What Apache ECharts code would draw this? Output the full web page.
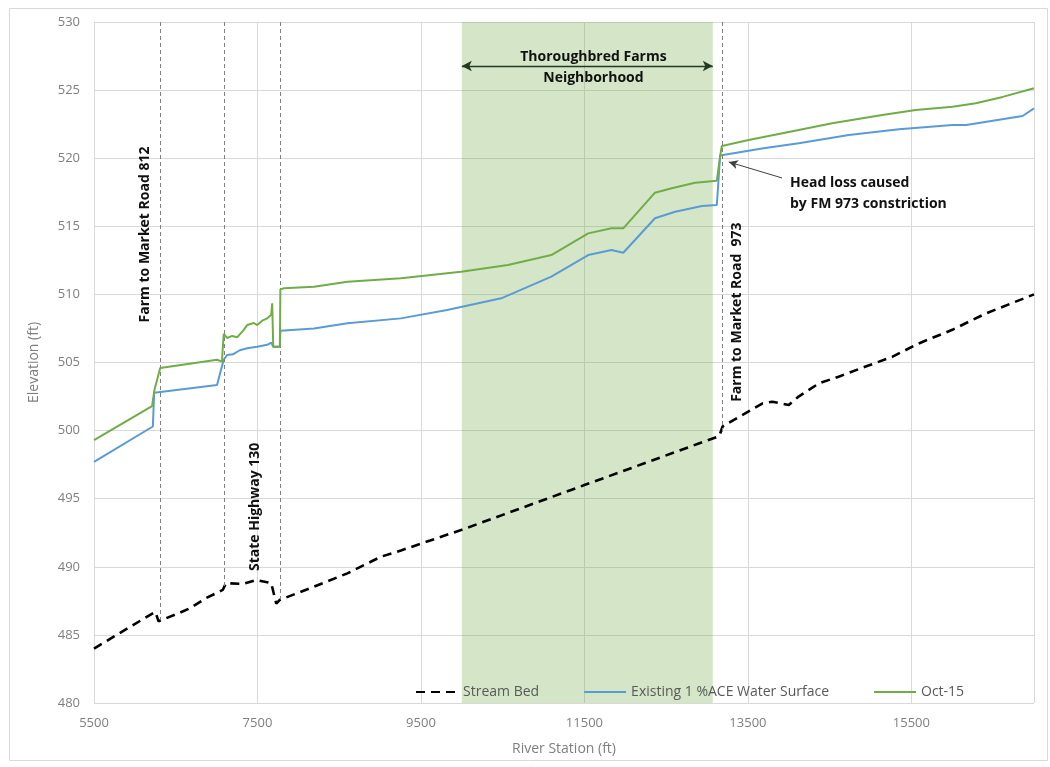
<!DOCTYPE html>
<html><head><meta charset="utf-8">
<script src="https://cdn.jsdelivr.net/npm/echarts@6/dist/echarts.min.js"></script>
<style>html,body{margin:0;padding:0;background:#fff}#c{width:1050px;height:767px}</style>
</head><body><div id="c"></div>
<script>
// ---- Data ----
const bedStation = [5500,6250,6290,6540,6670,6870,7075,7115,7320,7485,7668,7730,7770,8190,8600,9010,9255,10000,11500,13150,13190,13680,13800,14000,14120,14370,14610,14940,15270,15590,16000,16410,17000];
const bedElev    = [484.0,486.7,486.0,486.6,486.95,487.7,488.3,488.8,488.74,489.03,488.8,487.3,487.56,488.54,489.52,490.74,491.2,492.72,496.0,499.6,500.3,502.0,502.12,501.88,502.5,503.47,503.96,504.7,505.43,506.4,507.4,508.6,510.0];

const octStation = [5500,6210,6240,6310,7005,7065,7087,7128,7190,7251,7332,7374,7455,7496,7558,7619,7668,7680,7693,7774,7780,7823,8191,8601,9255,9991,10564,11095,11546,11831,11975,12363,12568,12854,13120,13160,13181,13509,14122,14531,15144,15553,16003,16289,16617,17000];
const octElev    = [499.3,501.8,503.0,504.6,505.2,505.06,507.1,506.8,506.95,506.85,507.4,507.75,507.9,507.75,508.07,508.24,508.5,509.35,506.16,506.16,510.37,510.45,510.57,510.93,511.18,511.67,512.16,512.89,514.48,514.85,514.85,517.47,517.79,518.2,518.35,520.16,520.9,521.34,522.07,522.56,523.17,523.54,523.78,524.03,524.5,525.13];

const exStation  = [5500,6220,6236,7005,7087,7128,7200,7283,7374,7496,7619,7668,7680,7693,7774,7780,8191,8601,9255,9820,10482,11095,11546,11831,11975,12363,12610,12937,13120,13160,13690,14122,14735,15348,16003,16170,16860,17000];
const exElev     = [497.7,500.3,502.78,503.35,505.2,505.55,505.6,505.9,506.04,506.16,506.3,506.46,506.6,506.16,506.16,507.33,507.5,507.88,508.24,508.85,509.71,511.3,512.89,513.26,513.06,515.59,516.07,516.49,516.56,520.2,520.73,521.1,521.7,522.12,522.44,522.44,523.1,523.66];

const seriesNames = ['Stream Bed','Existing 1 %ACE Water Surface','Oct-15'];

const bridgeStation = [6310,7095,7782,13190];
const bridgeBottom  = [486.1,488.5,487.6,499.9];
const bridgeTop     = 530;

const bridgeLabels  = ['Farm to Market Road 812','State Highway 130','Farm to Market Road  973'];
const bridgeLabelStation = [6126,7475,13365];
const bridgeLabelElev    = [514.4,494.4,508.7];

const neighborhoodStart = 10000, neighborhoodEnd = 13070;
const neighborhoodLabel = 'Thoroughbred Farms\nNeighborhood';
const neighborhoodLabelPos = [11610, 526.66];
const neighborhoodArrowElev = 526.77;

const headLossLabel = 'Head loss caused\nby FM 973 constriction';
const headLossLabelPos = [14015, 517.4];
const headLossArrowFrom = [13917, 518.55];
const headLossArrowTo   = [13267, 519.72];

const xMin = 5500, xMax = 17000, xStep = 2000;
const yMin = 480, yMax = 530, yStep = 5;

function pairs(xs, ys){ return xs.map((x,i)=>[x, ys[i]]); }

const FONT = "'Open Sans', 'Liberation Sans', sans-serif";
const chart = echarts.init(document.getElementById('c'));

const bridgeLines = bridgeStation.map((s,i)=>[{coord:[s, bridgeTop]},{coord:[s, bridgeBottom[i]]}]);

const annotationPoints = bridgeLabels.map((t,i)=>({
  name: t, coord:[bridgeLabelStation[i], bridgeLabelElev[i]],
  label:{rotate:90, position:'inside'}
}));
annotationPoints.push({name: neighborhoodLabel, coord: neighborhoodLabelPos, label:{position:'inside', align:'center', lineHeight:21}});
annotationPoints.push({name: headLossLabel, coord: headLossLabelPos, label:{position:'right', distance:0, align:'left', lineHeight:21}});

const option = {
  animation: false,
  backgroundColor: '#fff',
  textStyle: {fontFamily: FONT},
  grid: {left: 94, right: 16, top: 22, bottom: 64, containLabel: false},
  xAxis: {
    type: 'value', min: xMin, max: xMax, interval: xStep,
    name: 'River Station (ft)', nameLocation: 'middle', nameGap: 39,
    nameTextStyle: {color: '#7f7f7f', fontSize: 14, fontFamily: FONT},
    axisLine: {show: false}, axisTick: {show: false},
    axisLabel: {color: '#7f7f7f', fontSize: 13, margin: 14, fontFamily: FONT, showMaxLabel: false,
                formatter: v => String(v)},
    splitLine: {show: true, lineStyle: {color: '#d9d9d9', width: 1}}
  },
  yAxis: {
    type: 'value', min: yMin, max: yMax, interval: yStep,
    name: 'Elevation (ft)', nameLocation: 'middle', nameGap: 53,
    nameTextStyle: {color: '#7f7f7f', fontSize: 14, fontFamily: FONT},
    axisLine: {show: false}, axisTick: {show: false},
    axisLabel: {color: '#7f7f7f', fontSize: 13, margin: 14, fontFamily: FONT},
    splitLine: {show: true, lineStyle: {color: '#d9d9d9', width: 1}}
  },
  legend: {
    data: seriesNames,
    left: 410, top: 680, itemWidth: 42, itemHeight: 14, itemGap: 44,
    itemStyle: {color: 'transparent', borderWidth: 0, opacity: 0},
    textStyle: {color: '#595959', fontSize: 14, fontFamily: FONT}
  },
  graphic: [{
    type: 'rect', silent: true,
    shape: {x: 9.5, y: 8.5, width: 1038, height: 752},
    style: {fill: 'none', stroke: '#d9d9d9', lineWidth: 1}
  }],
  series: [
    {
      name: seriesNames[0], type: 'line', data: pairs(bedStation, bedElev),
      symbol: 'none', showSymbol: false, z: 3,
      lineStyle: {color: '#000', width: 2.6, type: [9, 6]},
      itemStyle: {color: '#000'},
      markArea: {
        silent: true,
        itemStyle: {color: 'rgba(112,173,71,0.30)'},
        data: [[{xAxis: neighborhoodStart}, {xAxis: neighborhoodEnd}]]
      },
      markLine: {
        silent: true, symbol: ['none','none'], animation: false,
        label: {show: false},
        lineStyle: {color: '#808080', width: 1, type: [4, 3]},
        data: bridgeLines
      }
    },
    {
      name: seriesNames[1], type: 'line', data: pairs(exStation, exElev),
      symbol: 'none', showSymbol: false, z: 4,
      lineStyle: {color: '#5b9bd5', width: 2},
      itemStyle: {color: '#5b9bd5'},
      markLine: {
        silent: true, animation: false, label: {show: false},
        symbol: ['arrow','arrow'], symbolSize: [8, 10],
        lineStyle: {color: '#223a22', width: 1.3, type: 'solid'},
        data: [[{coord: [neighborhoodStart, neighborhoodArrowElev]}, {coord: [neighborhoodEnd, neighborhoodArrowElev]}]]
      }
    },
    {
      name: seriesNames[2], type: 'line', data: pairs(octStation, octElev),
      symbol: 'none', showSymbol: false, z: 5,
      lineStyle: {color: '#70ad47', width: 2},
      itemStyle: {color: '#70ad47'},
      markLine: {
        silent: true, animation: false, label: {show: false},
        symbol: ['none','arrow'], symbolSize: [7, 9],
        lineStyle: {color: '#404040', width: 1, type: 'solid'},
        data: [[{coord: headLossArrowFrom}, {coord: headLossArrowTo}]]
      },
      markPoint: {
        silent: true, symbol: 'circle', symbolSize: 0, animation: false,
        itemStyle: {color: 'transparent'},
        label: {show: true, formatter: '{b}', color: '#111', fontWeight: 'bold', fontSize: 14, fontFamily: FONT},
        data: annotationPoints
      }
    }
  ]
};
chart.setOption(option);
</script>
</body></html>
